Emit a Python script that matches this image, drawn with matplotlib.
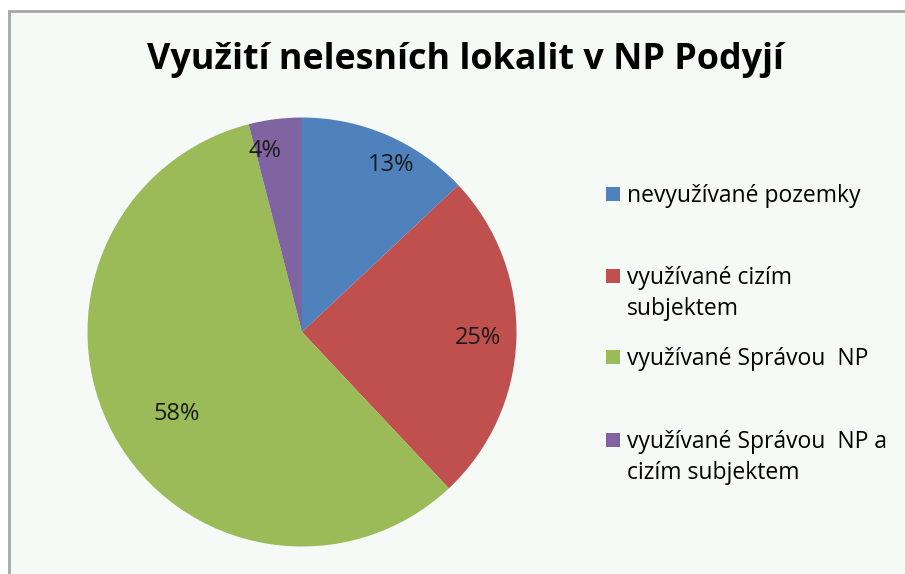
import numpy as np
import matplotlib
matplotlib.use("Agg")
import matplotlib.pyplot as plt
from matplotlib.patches import Rectangle, Patch

# ---- data ----
categories = ["nevyužívané pozemky",
              "využívané cizím\nsubjektem",
              "využívané Správou  NP",
              "využívané Správou  NP a\ncizím subjektem"]
values = [13, 25, 58, 4]
title = "Využití nelesních lokalit v NP Podyjí"

# ---- style ----
colors = ["#4F81BD", "#C0504D", "#9BBB59", "#8064A2"]
label_r = [0.88, 0.82, 0.70, 0.86]
label_dang = [4.6, 0.2, -4.4, -4.3]
FONT = "Open Sans"
W, H = 905, 574
fig = plt.figure(figsize=(W / 100, H / 100), dpi=100)
fig.patch.set_facecolor("white")

# chart area frame
fig.patches.append(Rectangle((9 / W, -0.2), 1.2, 1 - 11 / H + 0.2,
                             transform=fig.transFigure, facecolor="#F5FAF7",
                             edgecolor="#A6A6A6", linewidth=2, zorder=-10))

cx, cy, r = 302, 332, 214.5
ax = fig.add_axes([(cx - r) / W, (H - cy - r) / H, 2 * r / W, 2 * r / H])
ax.set_zorder(1)
wedges, _ = ax.pie(values, colors=colors, startangle=90, counterclock=False,
                   radius=1, wedgeprops=dict(linewidth=0))
ax.set_xlim(-1, 1)
ax.set_ylim(-1, 1)
ax.set_axis_off()

total = sum(values)
for w, v, rr, da in zip(wedges, values, label_r, label_dang):
    mid = np.deg2rad((w.theta1 + w.theta2) / 2 - da)
    ax.text(rr * np.cos(mid), rr * np.sin(mid), f"{100 * v / total:.0f}%",
            ha="center", va="center", fontsize=17, family=FONT, color="#1A1A1A")

fig.text(465 / W, 1 - 60 / H, title, ha="center", va="center",
         fontsize=25.8, fontweight="bold", family=FONT, color="black")

# legend: one entry per category, marker aligned with first line
entry_y = [196, 278, 359, 442]
line_gap = 31
LS = 16.5
for cat, col, y in zip(categories, colors, entry_y):
    lines = cat.split("\n")
    leg = fig.legend(handles=[Patch(facecolor=col, edgecolor="none")],
                     labels=[lines[0]], loc="center left",
                     bbox_to_anchor=(606 / W, 1 - y / H), frameon=False,
                     handlelength=0.62, handleheight=0.62, handletextpad=0.28,
                     borderpad=0, borderaxespad=0,
                     prop=dict(family=FONT, size=LS))
    fig.canvas.draw()
    if len(lines) > 1:
        bb = leg.get_texts()[0].get_window_extent()
        fig.text(bb.x0 / W, 1 - (y + line_gap) / H, lines[1], ha="left",
                 va="center", family=FONT, fontsize=LS, color="black")

fig.savefig("out.png", dpi=100, facecolor="white")
